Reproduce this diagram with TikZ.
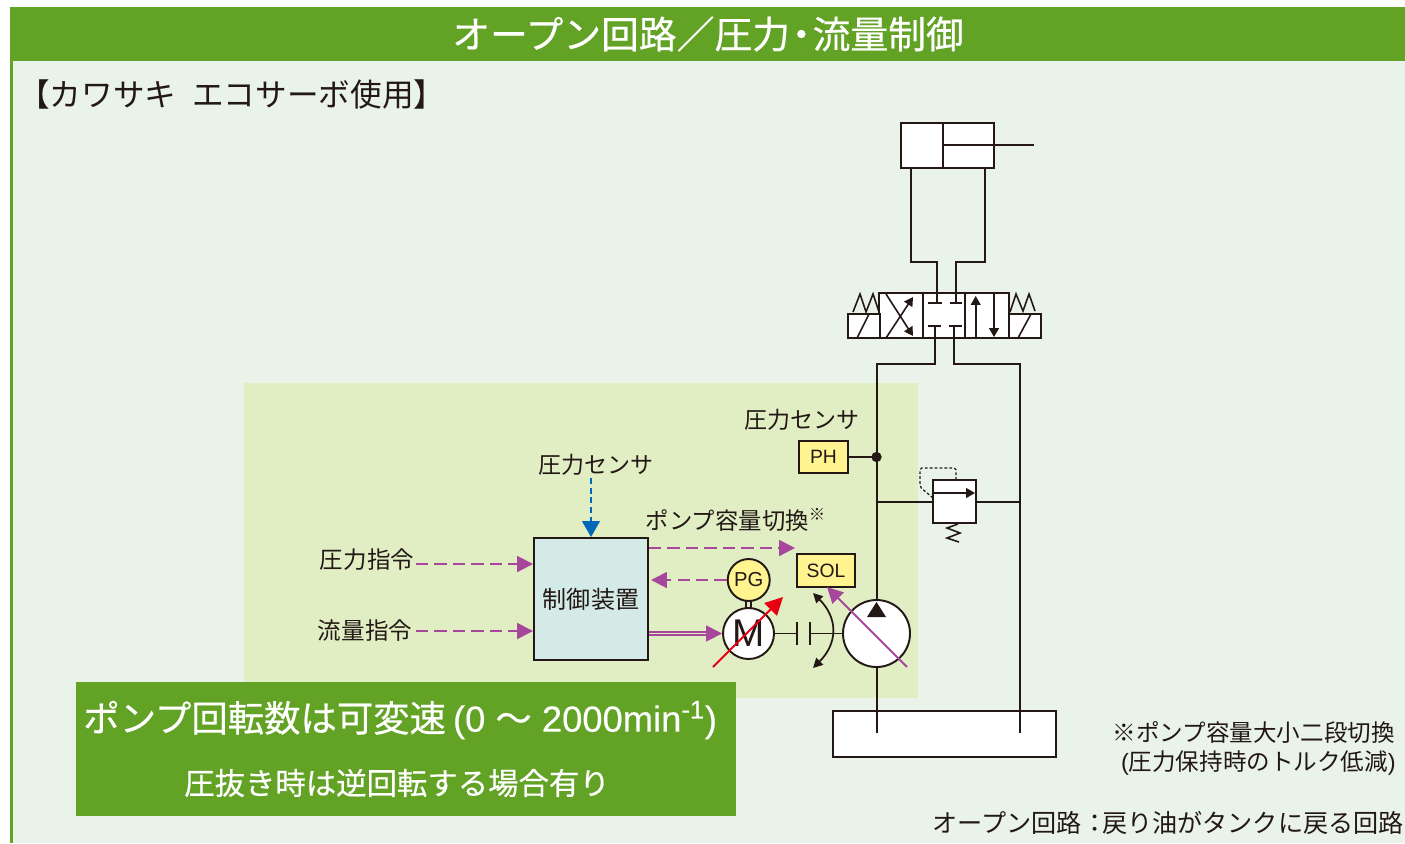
\documentclass[tikz,border=0pt]{standalone}
\usepackage{fontspec}
\usepackage{color}
\usetikzlibrary{arrows.meta}
\setmainfont{Noto Sans CJK JP}
\newfontfamily\latinfont{Liberation Sans}
\newfontfamily\heavyfont[FakeBold=0.5]{Noto Sans CJK JP}
\newfontfamily\heavylatin[FakeBold=0.3]{Liberation Sans}
\definecolor{inkc}{HTML}{231815}
\definecolor{barc}{HTML}{62A225}
\definecolor{panelc}{HTML}{E9F3EA}
\definecolor{zonec}{HTML}{E1EEC4}
\definecolor{ctrlc}{HTML}{D3EAE6}
\definecolor{yelc}{HTML}{FFF48F}
\definecolor{sigc}{HTML}{A6479B}
\definecolor{bluec}{HTML}{0068B7}
\definecolor{redc}{HTML}{E60012}
\def\px{0.02cm}
\newcommand{\txtsize}[1]{\fontsize{#1}{#1}\selectfont}
\tikzset{
  pipe/.style={color=inkc,line width=1.1pt},
  thin pipe/.style={color=inkc,line width=0.9pt},
  whitebox/.style={draw=inkc,fill=white,line width=1.1pt,inner sep=0pt},
  yelbox/.style={draw=inkc,fill=yelc,line width=1.1pt,inner sep=0pt,text=inkc},
  label/.style={text=inkc,inner sep=0pt},
  sigline/.style={color=sigc,line width=1.1pt,dash pattern=on 7pt off 3.5pt,-{Triangle[length=9pt,width=9pt]}},
  flowtip/.style={-{Triangle[length=5pt,width=5.5pt]}},
}
\begin{document}
\begin{tikzpicture}[%
      x=0.02cm,y=-0.02cm,
      ]
      \useasboundingbox (0,0) rectangle (1405,843);
      \fill [white] (0,0) rectangle (1405,843);
      \fill [panelc] (10,7) rectangle (1405,843);
      \fill [barc] (10,7) rectangle (1405,61);
      \fill [barc] (10,7) rectangle (13,843);
      \fill [zonec] (244,383) rectangle (918,698);

      \node (title) [text=white,inner sep=0pt] at (708,34) {\txtsize{21.5pt}\heavyfont オープン回路／圧力\kern-0.2em・\kern-0.2em 流量制御};
      \node (kind) [label,anchor=west] at (18,94) {\txtsize{18pt}【カワサキ\hspace{5pt} エコサーボ使用】};

      % cylinder
      \node (cyl) [whitebox,minimum width=93*\px,minimum height=45*\px] at (947.5,145.5) {};
      \coordinate (rodin) at (943,145);
      \coordinate (rodend) at (1034,145);
      \draw [pipe] (943,123) -- (943,168);
      \draw [pipe] (rodin) -- (rodend);

      % directional valve
      \node (tank) [whitebox,minimum width=223*\px,minimum height=46*\px] at (944.5,734) {};
      \node (valve) [whitebox,minimum width=130*\px,minimum height=45*\px] at (944,315.5) {};
      \node (solL) [whitebox,minimum width=32*\px,minimum height=24*\px] at (864,326) {};
      \node (solR) [whitebox,minimum width=32*\px,minimum height=24*\px] at (1025,326) {};
      \draw [pipe] (923,293) -- (923,338);
      \draw [pipe] (965,293) -- (965,338);
      \draw [thin pipe] (857,338) -- (869,314);
      \draw [thin pipe] (1018,338) -- (1031,314);
      \draw [thin pipe] (853,312) -- (860,294) -- (866,312) -- (873,294) -- (879,312);
      \draw [thin pipe] (1010,312) -- (1016,294) -- (1023,311) -- (1029,294) -- (1035,311);
      \draw [thin pipe,flowtip] (886,338) -- (913,297);
      \draw [thin pipe,flowtip] (886,294) -- (913,336);
      \draw [thin pipe,flowtip] (975.7,338) -- (975.7,296);
      \draw [thin pipe,flowtip] (994,294) -- (994,337);
      \draw [thin pipe] (928,303) -- (942,303);
      \draw [thin pipe] (950,303) -- (962,303);
      \draw [thin pipe] (928,326) -- (941,326);
      \draw [thin pipe] (949,326) -- (962,326);

      % pipes
      \coordinate (cylA) at (911,168);
      \coordinate (cylB) at (985,168);
      \coordinate (portA) at (936.8,303);
      \coordinate (portB) at (956,303);
      \coordinate (portP) at (935,326);
      \coordinate (portT) at (954,326);
      \coordinate (mainP) at (877,733);
      \coordinate (mainT) at (1020,733);
      \draw [pipe] (cylA) |- (936.8,262) -- (portA);
      \draw [pipe] (cylB) |- (956,262) -- (portB);
      \draw [pipe] (portP) |- (877,364) -- (mainP);
      \draw [pipe] (portT) |- (1020,364) -- (mainT);

      % relief valve
      \node (relief) [whitebox,minimum width=43*\px,minimum height=43*\px] at (954.5,501.5) {};
      \coordinate (reliefL) at (877,502);
      \coordinate (reliefR) at (1020,502);
      \draw [pipe] (reliefL) -- (relief.west |- reliefL);
      \draw [pipe] (relief.east |- reliefR) -- (reliefR);
      \draw [thin pipe,flowtip] (933,493) -- (975,493);
      \draw [thin pipe] (958,524) -- (947,528) -- (960,533) -- (947,538) -- (959,542);
      \draw [color=inkc,line width=0.7pt,dash pattern=on 1.6pt off 1.2pt,rounded corners=1pt] (956,480) -- (956,468) -- (920,468) -- (920,487) -- (933,498);

      % pressure sensor
      \node (ph) [yelbox,minimum width=49*\px,minimum height=32*\px] at (823.5,457) {\txtsize{11pt}\latinfont PH};
      \coordinate (phdot) at (876.5,457);
      \draw [pipe] (ph) -- (phdot);
      \filldraw [color=inkc] (phdot) circle (2.7pt);
      \node (phlabel) [label] at (802,420) {\txtsize{13.1pt}圧力センサ};

      % control unit
      \node (ctrl) [draw=inkc,fill=ctrlc,line width=1.1pt,inner sep=0pt,text=inkc,minimum width=114*\px,minimum height=122*\px] at (591,599) {\txtsize{13.7pt}制御装置};
      \node (sensor) [label] at (596,465) {\txtsize{13.1pt}圧力センサ};
      \node (press) [label] at (367,560) {\txtsize{13.4pt}圧力指令};
      \node (flow) [label] at (365,631) {\txtsize{13.4pt}流量指令};
      \node (swlabel) [label] at (736,520) {\txtsize{13.3pt}ポンプ容量切換\textsuperscript{※}};
      \draw [color=bluec,line width=0.9pt,dash pattern=on 3.5pt off 2pt,-{Triangle[length=9pt,width=10pt]}] (591,478) -- (ctrl.north);
      \draw [sigline] (416,564) -- (ctrl.west |- 0,564);
      \draw [sigline] (416,631) -- (ctrl.west |- 0,631);

      % pump and motor
      \node (sol) [yelbox,minimum width=58*\px,minimum height=33*\px] at (826,570.5) {\txtsize{11pt}\latinfont SOL};
      \node (pg) [draw=inkc,fill=yelc,line width=1.1pt,circle,inner sep=0pt,text=inkc,minimum width=42*\px] at (748.7,580) {\txtsize{11.5pt}\latinfont PG};
      \node (motor) [whitebox,circle,minimum width=51*\px,text=inkc] at (748.5,633.5) {\txtsize{22pt}\latinfont M};
      \node (pump) [whitebox,circle,minimum width=67*\px] at (876.5,633.5) {};
      \coordinate (clutchL) at (797,633.5);
      \coordinate (clutchR) at (810,633.5);
      \coordinate (swend) at (795,548);
      \draw [sigline] (ctrl.east |- swend) -- (swend);
      \draw [sigline] (pg.west) -- (651,580);
      \draw [color=sigc,line width=0.95pt,double=zonec,double distance=0.8pt,-{Triangle[length=9pt,width=9pt]}] (ctrl.east |- motor.west) -- (motor.west);
      \draw [pipe] (746,600) -- (746,608);
      \draw [pipe] (751,600) -- (751,608);
      \draw [pipe] (motor.east) -- (clutchL);
      \draw [pipe] (797,622) -- (797,645);
      \draw [pipe] (810,622) -- (810,645);
      \draw [pipe] (clutchR) -- (pump.west);
      \fill [inkc] (876.5,602) -- (886,617) -- (867,617) -- cycle;
      \draw [color=inkc,line width=1pt,{Triangle[length=5.5pt,width=5.5pt]}-{Triangle[length=5.5pt,width=5.5pt]}] (813,593) .. controls (838,618) and (838,643) .. (813,668);
      \draw [color=sigc,line width=1.1pt,-{Triangle[length=9pt,width=9pt]}] (907,667) -- (827,587);
      \draw [color=redc,line width=1.1pt,-{Triangle[length=10pt,width=10pt]}] (713,667) -- (783,597);

      % note box
      \fill [barc] (76,682) rectangle (736,816);
      \node (speed) [text=white,inner sep=0pt,anchor=west] at (83,720) {\txtsize{20.7pt}\heavyfont ポンプ回転数は可変速\hspace{4pt}{\heavylatin (0 }～{\heavylatin\ 2000min\textsuperscript{-1})}};
      \node (reverse) [text=white,inner sep=0pt] at (397,783) {\txtsize{17.3pt}\heavyfont 圧抜き時は逆回転する場合有り};

      % notes
      \node (noteA) [label,anchor=east] at (1395,732) {\txtsize{13.4pt}※ポンプ容量大小二段切換};
      \node (noteB) [label,anchor=east] at (1396,763) {\txtsize{13.4pt}{\latinfont (}圧力保持時のトルク低減{\latinfont )}};
      \node (noteC) [label,anchor=east] at (1404,823) {\txtsize{14.3pt}オープン回路：\kern-0.2em 戻り油がタンクに戻る回路};
\end{tikzpicture}
\end{document}
